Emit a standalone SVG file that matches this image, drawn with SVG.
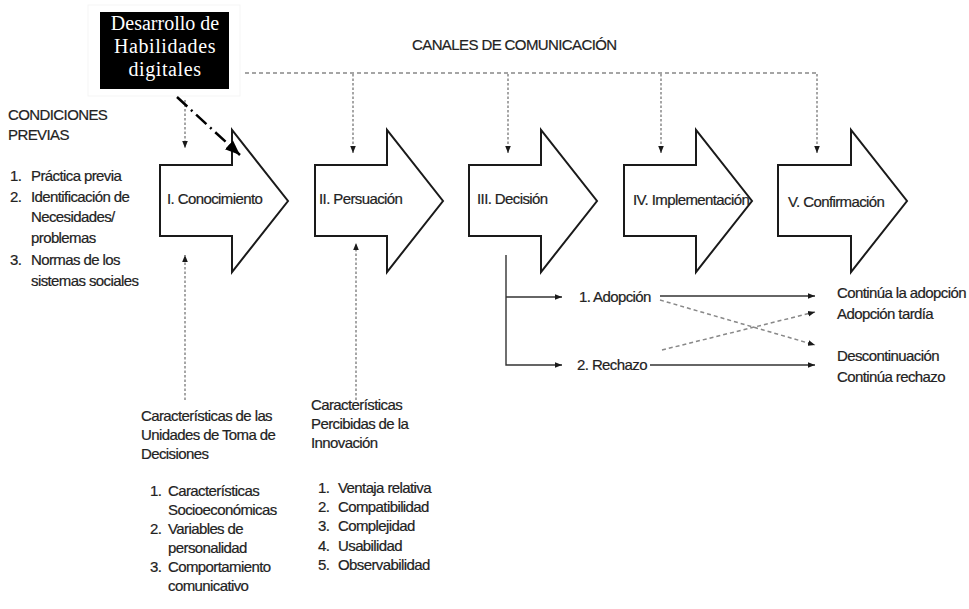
<svg xmlns="http://www.w3.org/2000/svg" width="969" height="609" viewBox="0 0 969 609">
<style>
  .t { font-family: "Liberation Sans", Arial, sans-serif; font-size: 15px; fill: #222; letter-spacing: -0.6px; stroke: #222; stroke-width: 0.2px; }
  .stage { fill: #fff; stroke: #1a1a1a; stroke-width: 2; stroke-linejoin: miter; }
  .dot { fill: none; stroke: #777; stroke-width: 1.3; stroke-dasharray: 2.5,2; }
  .dash { fill: none; stroke: #888; stroke-width: 1.5; stroke-dasharray: 4,3; }
  .solid { fill: none; stroke: #333; stroke-width: 1.4; }
  .serif { font-family: "Liberation Serif", "Times New Roman", serif; font-size: 20px; fill: #fff; text-anchor: middle; }
</style>
<defs>
  <marker id="ah" viewBox="0 0 10 10" refX="10" refY="5" markerWidth="7" markerHeight="7" markerUnits="userSpaceOnUse" orient="auto">
    <path d="M0,1 L10,5 L0,9 Z" fill="#1a1a1a"/>
  </marker>
  <marker id="ahBig" viewBox="0 0 10 10" refX="10" refY="5" markerWidth="15" markerHeight="15" markerUnits="userSpaceOnUse" orient="auto">
    <path d="M0,1 L10,5 L0,9 Z" fill="#000"/>
  </marker>
</defs>
<rect width="969" height="609" fill="#fff"/>

<g id="habilidades">
  <rect x="88" y="5" width="152" height="91" fill="#fff" stroke="#f5f5f5" stroke-width="1"/>
  <rect x="100" y="12" width="129" height="77" fill="#000"/>
  <text class="serif" x="165" y="30">Desarrollo de</text>
  <text class="serif" x="165" y="53" letter-spacing="0.6">Habilidades</text>
  <text class="serif" x="165" y="76" letter-spacing="0.6">digitales</text>
</g>

<g id="canales">
  <text class="t" x="412" y="50">CANALES DE COMUNICACIÓN</text>
</g>

<g id="condiciones">
  <text class="t" x="8" y="120">CONDICIONES</text>
  <text class="t" x="8" y="140">PREVIAS</text>
  <text class="t" x="10" y="181">1.</text><text class="t" x="31" y="181">Práctica previa</text>
  <text class="t" x="10" y="202">2.</text><text class="t" x="31" y="202">Identificación de</text>
  <text class="t" x="31" y="222">Necesidades/</text>
  <text class="t" x="31" y="243">problemas</text>
  <text class="t" x="10" y="265">3.</text><text class="t" x="31" y="265">Normas de los</text>
  <text class="t" x="31" y="286">sistemas sociales</text>
</g>

<g id="conocimiento">
  <path class="stage" d="M160,165 H232 V130 L288,201 L232,272 V236 H160 Z"/>
  <text class="t" x="167" y="204">I. Conocimiento</text>
</g>
<g id="persuacion">
  <path class="stage" d="M315,165 H387 V130 L443,201 L387,272 V236 H315 Z"/>
  <text class="t" x="319" y="204">II. Persuación</text>
</g>
<g id="decision">
  <path class="stage" d="M469,165 H541 V130 L597,201 L541,272 V236 H469 Z"/>
  <text class="t" x="477" y="204">III. Decisión</text>
</g>
<g id="implementacion">
  <path class="stage" d="M624,165 H696 V130 L752,201 L696,272 V236 H624 Z"/>
  <text class="t" x="633" y="205">IV. Implementación</text>
</g>
<g id="confirmacion">
  <path class="stage" d="M778,165 H851 V130 L907,201 L851,272 V236 H778 Z"/>
  <text class="t" x="788" y="207">V. Confirmación</text>
</g>

<g id="adopcion"><text class="t" x="579" y="302">1. Adopción</text></g>
<g id="rechazo"><text class="t" x="577" y="370">2. Rechazo</text></g>

<g id="resultados">
  <text class="t" x="837" y="298">Continúa la adopción</text>
  <text class="t" x="837" y="319">Adopción tardía</text>
  <text class="t" x="837" y="361">Descontinuación</text>
  <text class="t" x="837" y="382">Continúa rechazo</text>
</g>

<g id="unidades">
  <text class="t" x="141" y="421">Características de las</text>
  <text class="t" x="141" y="440">Unidades de Toma de</text>
  <text class="t" x="141" y="459">Decisiones</text>
  <text class="t" x="150" y="496">1.</text><text class="t" x="168" y="496">Características</text>
  <text class="t" x="168" y="515">Socioeconómicas</text>
  <text class="t" x="150" y="534">2.</text><text class="t" x="168" y="534">Variables de</text>
  <text class="t" x="168" y="553">personalidad</text>
  <text class="t" x="150" y="572">3.</text><text class="t" x="168" y="572">Comportamiento</text>
  <text class="t" x="168" y="591">comunicativo</text>
</g>

<g id="innovacion">
  <text class="t" x="311" y="410">Características</text>
  <text class="t" x="311" y="429">Percibidas de la</text>
  <text class="t" x="311" y="448">Innovación</text>
  <text class="t" x="318" y="493">1.</text><text class="t" x="338" y="493">Ventaja relativa</text>
  <text class="t" x="318" y="512">2.</text><text class="t" x="338" y="512">Compatibilidad</text>
  <text class="t" x="318" y="531">3.</text><text class="t" x="338" y="531">Complejidad</text>
  <text class="t" x="318" y="551">4.</text><text class="t" x="338" y="551">Usabilidad</text>
  <text class="t" x="318" y="570">5.</text><text class="t" x="338" y="570">Observabilidad</text>
</g>

<g id="connectors">
  <path class="dash" d="M245,73 H817"/>
  <path class="dot" d="M353,74 V153" marker-end="url(#ah)"/>
  <path class="dot" d="M508,74 V153" marker-end="url(#ah)"/>
  <path class="dot" d="M661,74 V153" marker-end="url(#ah)"/>
  <path class="dot" d="M817,74 V153" marker-end="url(#ah)"/>
  <path class="dot" d="M185,100 V148" marker-end="url(#ah)"/>
  <path d="M177,97 L240,155" fill="none" stroke="#000" stroke-width="2.5" stroke-dasharray="14,5,2,5" marker-end="url(#ahBig)"/>
  <path class="dot" d="M185,400 V255" marker-end="url(#ah)"/>
  <path class="dot" d="M356,400 V243" marker-end="url(#ah)"/>
  <path class="solid" d="M506,255 V365 H562" marker-end="url(#ah)"/>
  <path class="solid" d="M506,297 H562" marker-end="url(#ah)"/>
  <path class="solid" d="M660,296 H815" marker-end="url(#ah)"/>
  <path class="solid" d="M650,365 H815" marker-end="url(#ah)"/>
  <path class="dash" d="M660,300 L815,345" marker-end="url(#ah)"/>
  <path class="dash" d="M662,350 L815,312" marker-end="url(#ah)"/>
</g>
</svg>
